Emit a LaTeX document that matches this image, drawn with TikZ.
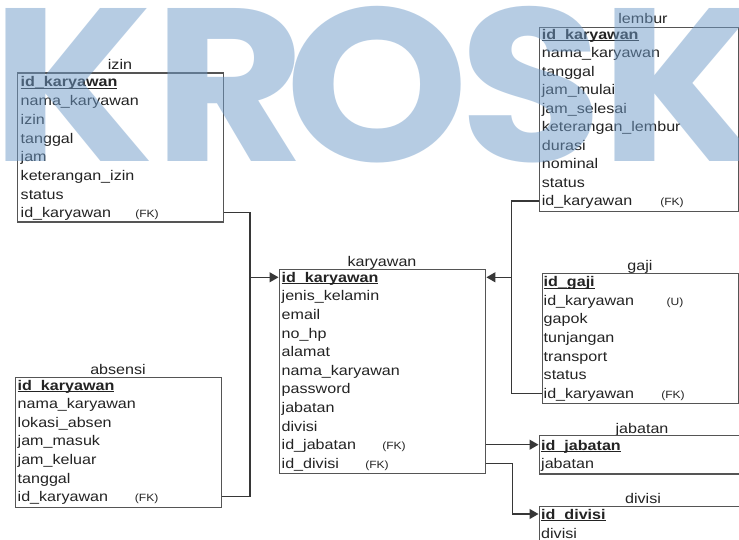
\documentclass[tikz,border=0pt]{standalone}
\usepackage{fontspec}
\newfontfamily\erfont{Liberation Sans}[FakeStretch=1.15]
\newfontfamily\wmfont{Poppins}
\usetikzlibrary{arrows.meta}
\definecolor{wmc}{RGB}{111,155,201}
\definecolor{boxc}{RGB}{85,85,85}
\definecolor{linec}{RGB}{55,55,55}
\definecolor{txt}{RGB}{35,35,35}
\newcommand\myul[1]{\setbox0\hbox{#1}\rlap{\rule[-1.8pt]{\wd0}{0.9pt}}\box0}
\newcommand\pk[1]{{\bfseries\myul{#1}}}
\begin{document}
\begin{tikzpicture}[x=1pt,y=-1pt,
  tbl/.style={draw=boxc, line width=1.4pt, rectangle, inner sep=0pt, anchor=north west},
  row/.style={inner sep=0pt, anchor=west, text height=10pt, text depth=0pt, text=txt,
    font=\erfont\fontsize{14}{16}\selectfont},
  ttl/.style={inner sep=0pt, anchor=center, text height=10pt, text depth=0pt, text=txt,
    font=\erfont\fontsize{14}{16}\selectfont},
  fk/.style={inner sep=0pt, anchor=base, text=txt, font=\erfont\fontsize{10.5}{12}\selectfont},
  conn/.style={draw=linec, line width=1.2pt},
  arr/.style={-{Triangle[length=9pt,width=10pt]}},
  wm/.style={inner sep=0pt, anchor=base, text=wmc, text opacity=0.5, xscale=1.07,
    font=\wmfont\bfseries\fontsize{218}{218}\selectfont}]
\useasboundingbox (0,0) rectangle (739,540);
\clip (0,0) rectangle (739,540);
\fill[white] (0,0) rectangle (739,540);

% izin
\node[ttl] (izin-t) at (120,64.5) {izin};
\node[tbl, minimum width=206pt, minimum height=149pt] (izin) at (17,72.5) {};
\foreach \t [count=\i] in {\pk{id\_karyawan},nama\_karyawan,izin,tanggal,jam,keterangan\_izin,status,id\_karyawan}
  \node[row] (izin-r\i) at (20.5,{82+(\i-1)*18.67}) {\t};
\node[fk] (izin-fk) at (147,{87+7*18.67}) {(FK)};

% absensi
\node[ttl] (abs-t) at (118,369.5) {absensi};
\node[tbl, minimum width=206pt, minimum height=129.5pt] (absensi) at (15,377) {};
\foreach \t [count=\i] in {\pk{id\_karyawan},nama\_karyawan,lokasi\_absen,jam\_masuk,jam\_keluar,tanggal,id\_karyawan}
  \node[row] (abs-r\i) at (17.5,{385+(\i-1)*18.6}) {\t};
\node[fk] (abs-fk) at (146.7,{390+6*18.6}) {(FK)};

% karyawan
\node[ttl] (kar-t) at (382,261) {karyawan};
\node[tbl, minimum width=206.5pt, minimum height=204pt] (karyawan) at (278.5,269) {};
\foreach \t [count=\i] in {\pk{id\_karyawan},jenis\_kelamin,email,no\_hp,alamat,nama\_karyawan,password,jabatan,divisi,id\_jabatan,id\_divisi}
  \node[row] (kar-r\i) at (281.5,{277.3+(\i-1)*18.6}) {\t};
\node[fk] (kar-fk1) at (394,{282.3+9*18.6}) {(FK)};
\node[fk] (kar-fk2) at (377,{282.3+10*18.6}) {(FK)};

% lembur
\node[ttl] (lem-t) at (643,19) {lembur};
\node[tbl, minimum width=199pt, minimum height=184pt] (lembur) at (539,27) {};
\foreach \t [count=\i] in {\pk{id\_karyawan},nama\_karyawan,tanggal,jam\_mulai,jam\_selesai,keterangan\_lembur,durasi,nominal,status,id\_karyawan}
  \node[row] (lem-r\i) at (541.7,{34.3+(\i-1)*18.52}) {\t};
\node[fk] (lem-fk) at (672,{39.3+9*18.52}) {(FK)};

% gaji
\node[ttl] (gaji-t) at (640,265) {gaji};
\node[tbl, minimum width=196.5pt, minimum height=130.3pt] (gaji) at (541.5,272.7) {};
\foreach \t [count=\i] in {\pk{id\_gaji},id\_karyawan,gapok,tunjangan,transport,status,id\_karyawan}
  \node[row] (gaji-r\i) at (543.5,{281.7+(\i-1)*18.6}) {\t};
\node[fk] (gaji-u) at (675,{286.7+1*18.6}) {(U)};
\node[fk] (gaji-fk) at (673,{286.7+6*18.6}) {(FK)};

% jabatan
\node[ttl] (jab-t) at (642,428.3) {jabatan};
\node[tbl, minimum width=206pt, minimum height=38.3pt] (jabatan) at (538.5,435) {};
\node[row] (jab-r1) at (541,445) {\pk{id\_jabatan}};
\node[row] (jab-r2) at (541,463.3) {jabatan};

% divisi
\node[ttl] (div-t) at (643,498.3) {divisi};
\node[tbl, minimum width=206pt, minimum height=60pt] (divisi) at (538.5,505.7) {};
\node[row] (div-r1) at (541,514) {\pk{id\_divisi}};
\node[row] (div-r2) at (541,533) {divisi};

% connectors
\coordinate (jl) at (250,0);
\coordinate (jr) at (511.5,0);
\coordinate (jd) at (512.5,0);
\draw[conn,arr] (izin.east |- izin-r8) -| (jl |- kar-r1) -- (karyawan.west |- kar-r1);
\draw[conn] (absensi.east |- abs-r7) -| (jl |- kar-r1);
\draw[conn,arr] (lembur.west |- lem-r10) -| (jr |- kar-r1) -- (karyawan.east |- kar-r1);
\draw[conn] (gaji.west |- gaji-r7) -| (jr |- kar-r1);
\draw[conn,arr] (karyawan.east |- kar-r10) -- (jabatan.west |- kar-r10);
\draw[conn,arr] (karyawan.east |- kar-r11) -| (jd |- div-r1) -- (divisi.west |- div-r1);

% watermark
\node[wm] (wm1) at (73,162) {K};
\node[wm] (wm2) at (230,162) {R};
\node[wm] (wm3) at (377,162) {O};
\node[wm] (wm4) at (531,162) {S};
\node[wm] (wm5) at (682,162) {K};
\end{tikzpicture}
\end{document}
